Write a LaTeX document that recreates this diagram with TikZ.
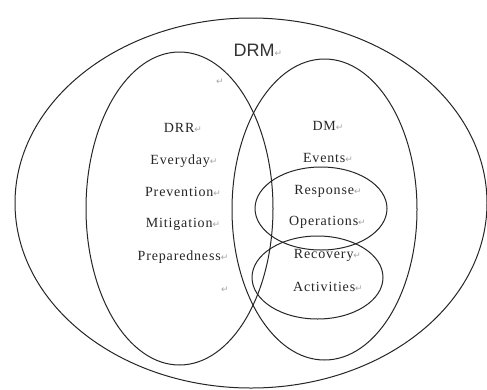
\documentclass[tikz,border=0pt]{standalone}
\usepackage{fontspec}
\setmainfont[LetterSpace=6]{Liberation Serif}
\newfontfamily\drmfont{Liberation Sans}
\newfontfamily\symfont{DejaVu Sans}
\usetikzlibrary{shapes.geometric}
\newcommand{\rmark}{{\symfont\fontsize{9}{9}\selectfont\color{black!35}↵}}
\tikzset{
  ring/.style={ellipse, draw=black!85, line width=1pt, inner sep=0pt, outer sep=0pt},
  lbl/.style={inner sep=0pt, font=\fontsize{14}{14}\selectfont, text=black!85},
  mk/.style={inner sep=0pt}
}
\begin{document}
\begin{tikzpicture}[x=1pt,y=-1pt]
\useasboundingbox (0,0) rectangle (487,389);
\fill[white] (0,0) rectangle (487,389);
\node[ring, minimum width=472pt, minimum height=370pt] (drm) at (251,203) {};
\node[ring, minimum width=187pt, minimum height=313pt] (drr) at (179.5,208.5) {};
\node[ring, minimum width=185pt, minimum height=301pt] (dm) at (324.5,209.5) {};
\node[ring, minimum width=132pt, minimum height=83pt] (resp) at (321,208.5) {};
\node[ring, minimum width=131pt, minimum height=83pt] (reco) at (317.5,277.5) {};
\node[inner sep=0pt, font=\drmfont\fontsize{18}{18}\selectfont, text=black!80] (tdrm) at (258,50) {DRM\rmark};
\node[mk] (m1) at (220,82) {\rmark};
\node[mk] (m2) at (225,290) {\rmark};
\node[lbl] (tdrr) at (183,128) {DRR\rmark};
\node[lbl] (tev) at (184,161) {Everyday\rmark};
\node[lbl] (tpre) at (183,192) {Prevention\rmark};
\node[lbl] (tmit) at (183,224) {Mitigation\rmark};
\node[lbl] (tprep) at (183,257) {Preparedness\rmark};
\node[lbl] (tdm) at (328,126) {DM\rmark};
\node[lbl] (tevt) at (328,158) {Events\rmark};
\node[lbl] (tres) at (328,191) {Response\rmark};
\node[lbl] (tops) at (327.5,222) {Operations\rmark};
\node[lbl] (trec) at (327.5,255) {Recovery\rmark};
\node[lbl] (tact) at (328,287) {Activities\rmark};
\end{tikzpicture}
\end{document}
